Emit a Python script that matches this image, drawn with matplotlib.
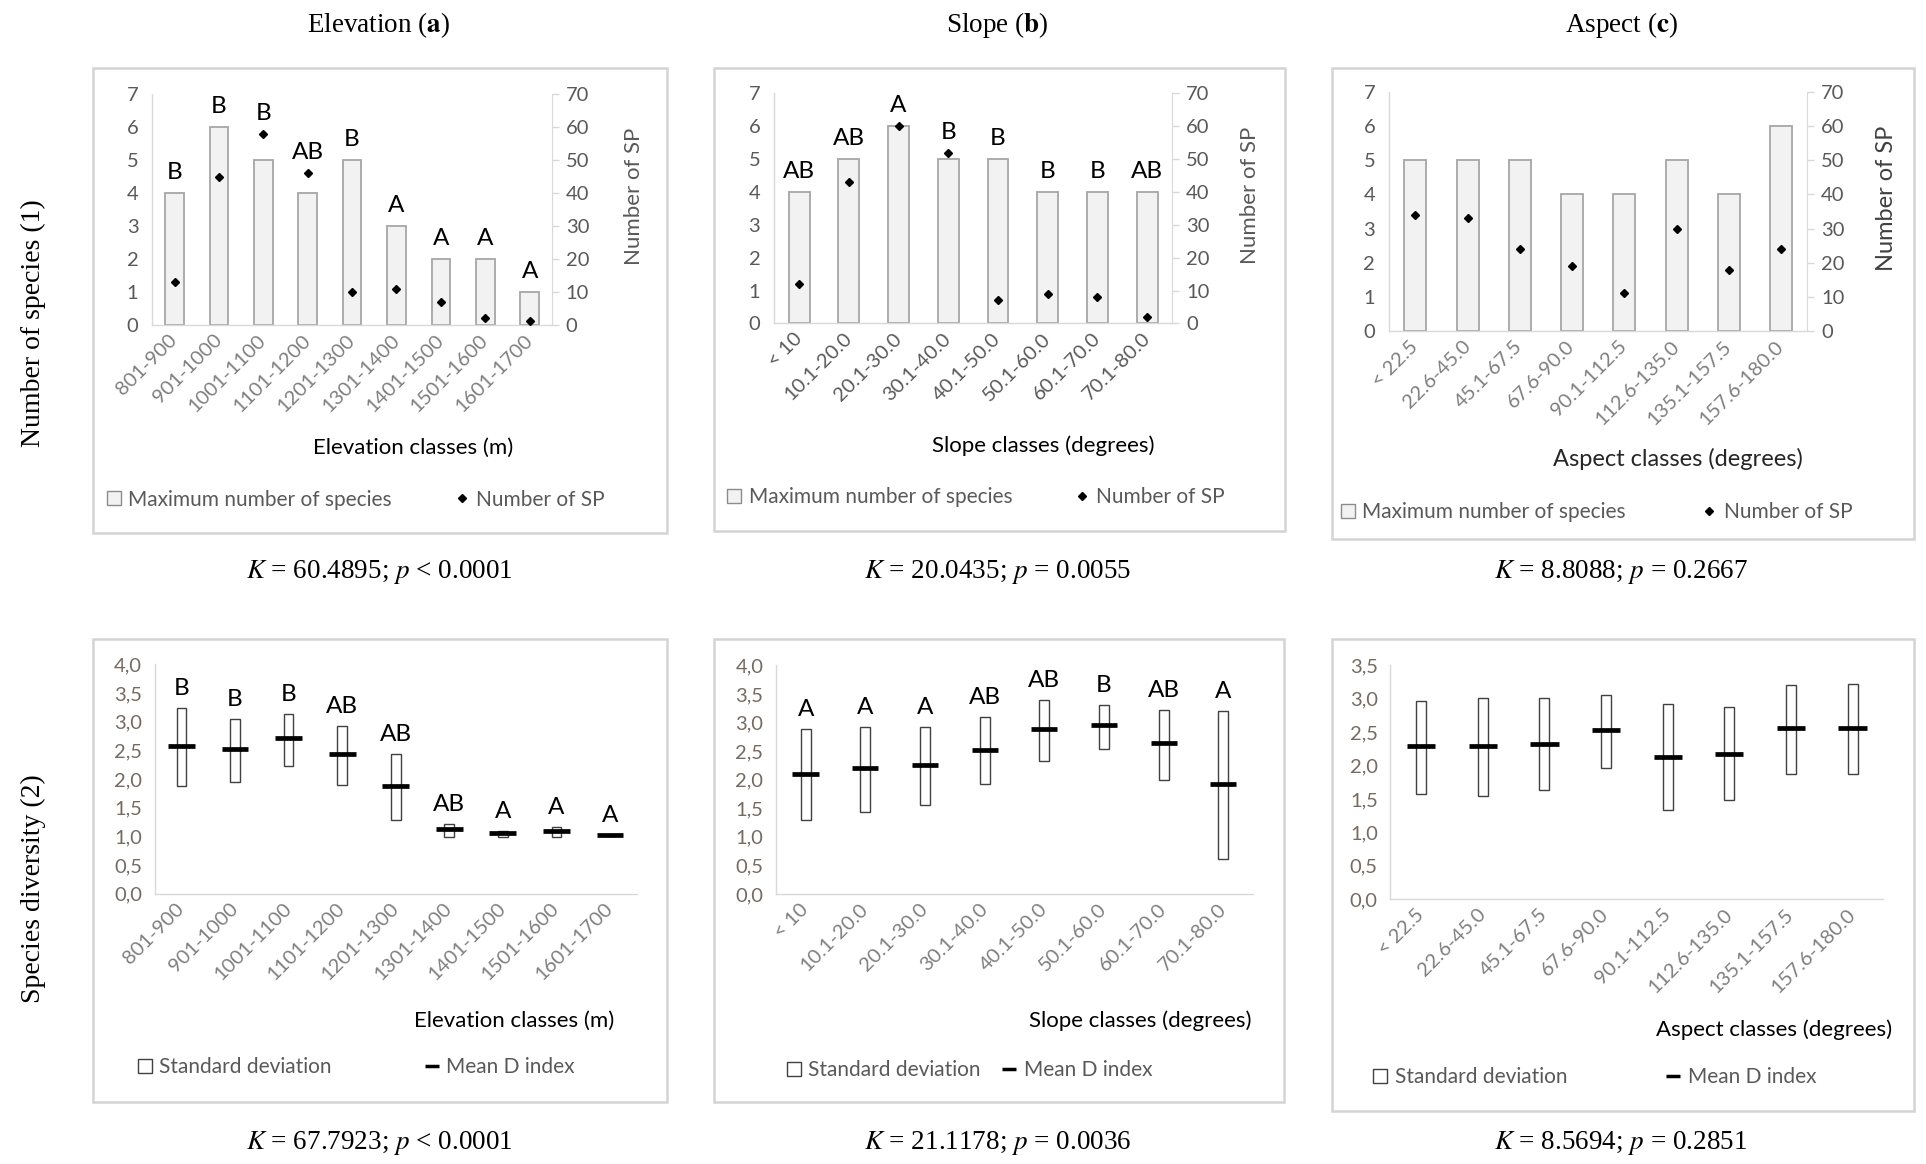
import matplotlib
matplotlib.use("Agg")
import matplotlib.pyplot as plt
from matplotlib.lines import Line2D
from matplotlib.patches import Rectangle
from matplotlib.ticker import FuncFormatter, MultipleLocator

# ---- data ----
elev_classes = ["801-900", "901-1000", "1001-1100", "1101-1200", "1201-1300",
                "1301-1400", "1401-1500", "1501-1600", "1601-1700"]
slope_classes = ["< 10", "10.1-20.0", "20.1-30.0", "30.1-40.0", "40.1-50.0",
                 "50.1-60.0", "60.1-70.0", "70.1-80.0"]
aspect_classes = ["< 22.5", "22.6-45.0", "45.1-67.5", "67.6-90.0", "90.1-112.5",
                  "112.6-135.0", "135.1-157.5", "157.6-180.0"]

# row 1: maximum number of species (bars) and number of SP (points)
elev_max_sp = [4, 6, 5, 4, 5, 3, 2, 2, 1]
elev_n_sp = [13, 45, 58, 46, 10, 11, 7, 2, 1]
elev_letters_1 = ["B", "B", "B", "AB", "B", "A", "A", "A", "A"]

slope_max_sp = [4, 5, 6, 5, 5, 4, 4, 4]
slope_n_sp = [12, 43, 60, 52, 7, 9, 8, 2]
slope_letters_1 = ["AB", "AB", "A", "B", "B", "B", "B", "AB"]

aspect_max_sp = [5, 5, 5, 4, 4, 5, 4, 6]
aspect_n_sp = [34, 33, 24, 19, 11, 30, 18, 24]

# row 2: mean D index with standard deviation range
elev_mean = [2.58, 2.52, 2.72, 2.44, 1.87, 1.12, 1.06, 1.10, 1.02]
elev_low = [1.87, 1.95, 2.23, 1.90, 1.28, 0.99, 0.99, 0.99, 1.00]
elev_high = [3.24, 3.04, 3.14, 2.92, 2.44, 1.22, 1.09, 1.17, 1.03]
elev_letters_2 = ["B", "B", "B", "AB", "AB", "AB", "A", "A", "A"]

slope_mean = [2.10, 2.20, 2.25, 2.52, 2.88, 2.96, 2.64, 1.93]
slope_low = [1.29, 1.43, 1.55, 1.93, 2.33, 2.54, 1.99, 0.62]
slope_high = [2.88, 2.92, 2.92, 3.09, 3.39, 3.31, 3.22, 3.20]
slope_letters_2 = ["A", "A", "A", "AB", "AB", "B", "AB", "A"]

aspect_mean = [2.29, 2.29, 2.32, 2.53, 2.13, 2.18, 2.56, 2.56]
aspect_low = [1.58, 1.54, 1.63, 1.97, 1.34, 1.48, 1.88, 1.88]
aspect_high = [2.97, 3.01, 3.01, 3.06, 2.92, 2.87, 3.20, 3.22]

col_titles = [("Elevation", "a"), ("Slope", "b"), ("Aspect", "c")]
row_titles = ["Number of species (1)", "Species diversity (2)"]
stats_1 = [("60.4895", "<", "0.0001"), ("20.0435", "=", "0.0055"), ("8.8088", "=", "0.2667")]
stats_2 = [("67.7923", "<", "0.0001"), ("21.1178", "=", "0.0036"), ("8.5694", "=", "0.2851")]

# ---- style ----
plt.rcParams["mathtext.fontset"] = "stix"
W, H = 1560.0, 943.0
SANS = "Lato"
SERIF = "Liberation Serif"
GRID = "#d9d9d9"
TXT = "#595959"
TICK_FS = 14.5
LEG_FS = 15
LAB_FS = 16
LET_FS = 17.5
SER_FS = 19.5

fig = plt.figure(figsize=(19.26, 11.64), dpi=100)


def fx(box, f):
    return (box[0] + f * (box[2] - box[0])) / W


def fy(box, f):
    return 1 - (box[1] + f * (box[3] - box[1])) / H


def make_axes(box, inner):
    l, r, t, b = inner
    x0, x1 = fx(box, l), fx(box, r)
    y1, y0 = fy(box, t), fy(box, b)
    fig.patches.append(Rectangle((box[0] / W, 1 - box[3] / H),
                                 (box[2] - box[0]) / W, (box[3] - box[1]) / H,
                                 transform=fig.transFigure, fill=False,
                                 edgecolor="#d4d4d4", linewidth=1.8))
    ax = fig.add_axes([x0, y0, x1 - x0, y1 - y0])
    for s in ["top", "right"]:
        ax.spines[s].set_visible(False)
    for s in ["left", "bottom"]:
        ax.spines[s].set_color(GRID)
        ax.spines[s].set_linewidth(1.0)
    ax.tick_params(axis="both", length=0)
    return ax


def add_key(handle, label, x, y):
    fig.legend([handle], [label], loc="center left", bbox_to_anchor=(x, y),
               frameon=False, handlelength=0.8, handletextpad=0.3,
               borderaxespad=0, borderpad=0,
               prop={"family": SANS, "size": LEG_FS}, labelcolor=TXT)


top_boxes = [(75, 55, 540, 432), (578, 55, 1041, 430), (1079, 55, 1550, 437)]
bot_boxes = [(75, 518, 540, 893), (578, 518, 1040, 893), (1079, 518, 1550, 900)]
top_inner = [(0.104, 0.80, 0.057, 0.552), (0.106, 0.802, 0.055, 0.552),
             (0.098, 0.817, 0.051, 0.558)]
bot_inner = [(0.108, 0.948, 0.054, 0.549), (0.109, 0.946, 0.056, 0.55),
             (0.100, 0.948, 0.055, 0.551)]

# ---- row 1 ----
top_sets = [
    (elev_classes, elev_max_sp, elev_n_sp, elev_letters_1, "Elevation classes (m)",
     (0.558, 0.817), (0.928, 0.039, 0.645), 0.943, "#7f7f7f"),
    (slope_classes, slope_max_sp, slope_n_sp, slope_letters_1, "Slope classes (degrees)",
     (0.576, 0.817), (0.928, 0.038, 0.646), 0.9375, "#595959"),
    (aspect_classes, aspect_max_sp, aspect_n_sp, None, "Aspect classes (degrees)",
     (0.594, 0.829), (0.942, 0.029, 0.651), 0.953, "#7f7f7f"),
]

for i, (cats, bars, pts, letters, xlab, xl_pos, lg, sp_x, cat_col) in enumerate(top_sets):
    box = top_boxes[i]
    ax = make_axes(box, top_inner[i])
    x = list(range(len(cats)))
    ax.bar(x, bars, width=0.42, color="#f2f2f2", edgecolor="#a6a6a6", linewidth=1.3, zorder=2)
    ax.set_xlim(-0.5, len(cats) - 0.5)
    ax.set_ylim(0, 7)
    ax.yaxis.set_major_locator(MultipleLocator(1))
    ax.tick_params(axis="y", pad=10, labelsize=TICK_FS, labelcolor=TXT)
    ax.set_xticks(x)
    ax.set_xticklabels(cats, rotation=45, ha="right", va="center",
                       rotation_mode="anchor", fontsize=TICK_FS, color=cat_col)
    ax.tick_params(axis="x", pad=9)
    for t in ax.get_xticklabels() + ax.get_yticklabels():
        t.set_family(SANS)

    ax2 = ax.twinx()
    for s in ["top", "left", "bottom"]:
        ax2.spines[s].set_visible(False)
    ax2.spines["right"].set_color(GRID)
    ax2.set_ylim(0, 70)
    ax2.yaxis.set_major_locator(MultipleLocator(10))
    ax2.tick_params(axis="y", length=5, width=1, color=GRID, pad=5,
                    labelsize=TICK_FS, labelcolor=TXT)
    for t in ax2.get_yticklabels():
        t.set_family(SANS)
    ax2.plot(x, pts, linestyle="none", marker="D", markersize=4.5, color="black", zorder=3)

    if letters:
        for xi, b, p, lt in zip(x, bars, pts, letters):
            ax.text(xi, max(b, p / 10) + 0.62, lt, ha="center", va="center",
                    fontsize=LET_FS, family=SANS, color="black")

    big = i == 2
    fig.text(fx(box, xl_pos[0]), fy(box, xl_pos[1]), xlab, ha="center", va="center",
             fontsize=LAB_FS + 1 if big else LAB_FS, family=SANS,
             color="#262626" if big else "black")
    fig.text(fx(box, sp_x), fy(box, 0.276), "Number of SP", rotation=90, ha="center",
             va="center", fontsize=LAB_FS + 1 if big else LAB_FS, family=SANS,
             color="#404040" if big else TXT)

    sq = Line2D([], [], linestyle="none", marker="s", markersize=10,
                markerfacecolor="#f2f2f2", markeredgecolor="#8c8c8c", markeredgewidth=1)
    dm = Line2D([], [], linestyle="none", marker="D", markersize=4.5, color="black")
    add_key(sq, "Maximum number of species", fx(box, lg[1]) - 0.005, fy(box, lg[0]))
    add_key(dm, "Number of SP", fx(box, lg[2]) - 0.005, fy(box, lg[0]))

# ---- row 2 ----
bot_sets = [
    (elev_classes, elev_mean, elev_low, elev_high, elev_letters_2, 4.0,
     "Elevation classes (m)", (0.734, 0.824), (0.924, 0.093, 0.593), 0.50, 0.18),
    (slope_classes, slope_mean, slope_low, slope_high, slope_letters_2, 4.0,
     "Slope classes (degrees)", (0.748, 0.823), (0.931, 0.143, 0.521), 0.44, 0.17),
    (aspect_classes, aspect_mean, aspect_low, aspect_high, None, 3.5,
     "Aspect classes (degrees)", (0.76, 0.827), (0.928, 0.085, 0.589), 0.46, 0.16),
]

comma = FuncFormatter(lambda v, pos: f"{v:.1f}".replace(".", ","))

for i, (cats, mean, low, high, letters, ymax, xlab, xl_pos, lg, mw, sw) in enumerate(bot_sets):
    box = bot_boxes[i]
    ax = make_axes(box, bot_inner[i])
    x = list(range(len(cats)))
    heights = [h - l for h, l in zip(high, low)]
    ax.bar(x, heights, bottom=low, width=sw, color="white", edgecolor="#404040",
           linewidth=1.0, zorder=2)
    ax.hlines(mean, [xi - mw / 2 for xi in x], [xi + mw / 2 for xi in x],
              color="black", linewidth=3.4, zorder=3)
    ax.set_xlim(-0.5, len(cats) - 0.5)
    ax.set_ylim(0, ymax)
    ax.yaxis.set_major_locator(MultipleLocator(0.5))
    ax.yaxis.set_major_formatter(comma)
    ax.tick_params(axis="y", pad=9, labelsize=TICK_FS, labelcolor="#766b62")
    ax.set_xticks(x)
    ax.set_xticklabels(cats, rotation=45, ha="right", va="center",
                       rotation_mode="anchor", fontsize=TICK_FS, color="#7f7f7f")
    ax.tick_params(axis="x", pad=9)
    for t in ax.get_xticklabels() + ax.get_yticklabels():
        t.set_family(SANS)

    if letters:
        for xi, h, lt in zip(x, high, letters):
            ax.text(xi, h + 0.34, lt, ha="center", va="center",
                    fontsize=LET_FS, family=SANS, color="black")

    fig.text(fx(box, xl_pos[0]), fy(box, xl_pos[1]), xlab, ha="center", va="center",
             fontsize=LAB_FS, family=SANS, color="black")

    sq = Line2D([], [], linestyle="none", marker="s", markersize=10,
                markerfacecolor="white", markeredgecolor="#404040", markeredgewidth=1)
    ds = Line2D([], [], linestyle="none", marker="_", markersize=10,
                markeredgewidth=2.5, color="black")
    add_key(sq, "Standard deviation", fx(box, lg[1]) - 0.005, fy(box, lg[0]))
    add_key(ds, "Mean D index", fx(box, lg[2]) - 0.005, fy(box, lg[0]))

# ---- titles and statistics ----
title_x = [307 / W, 808 / W, 1313 / W]
for tx, (name, letter) in zip(title_x, col_titles):
    fig.text(tx, 1 - 20 / H, name + r" ($\mathbf{" + letter + "}$)", ha="center",
             va="center", fontsize=SER_FS, family=SERIF)

fig.text(27 / W, 1 - 262 / H, row_titles[0], rotation=90, ha="center", va="center",
         fontsize=SER_FS + 0.5, family=SERIF)
fig.text(27 / W, 1 - 720 / H, row_titles[1], rotation=90, ha="center", va="center",
         fontsize=SER_FS + 0.5, family=SERIF)

for tx, (k, op, p) in zip(title_x, stats_1):
    fig.text(tx, 1 - 463 / H, f"$K$ = {k}; $p$ {op} {p}", ha="center", va="center",
             fontsize=SER_FS, family=SERIF)
for tx, (k, op, p) in zip(title_x, stats_2):
    fig.text(tx, 1 - 926 / H, f"$K$ = {k}; $p$ {op} {p}", ha="center", va="center",
             fontsize=SER_FS, family=SERIF)

fig.savefig("out.png", dpi=100, facecolor="white")
